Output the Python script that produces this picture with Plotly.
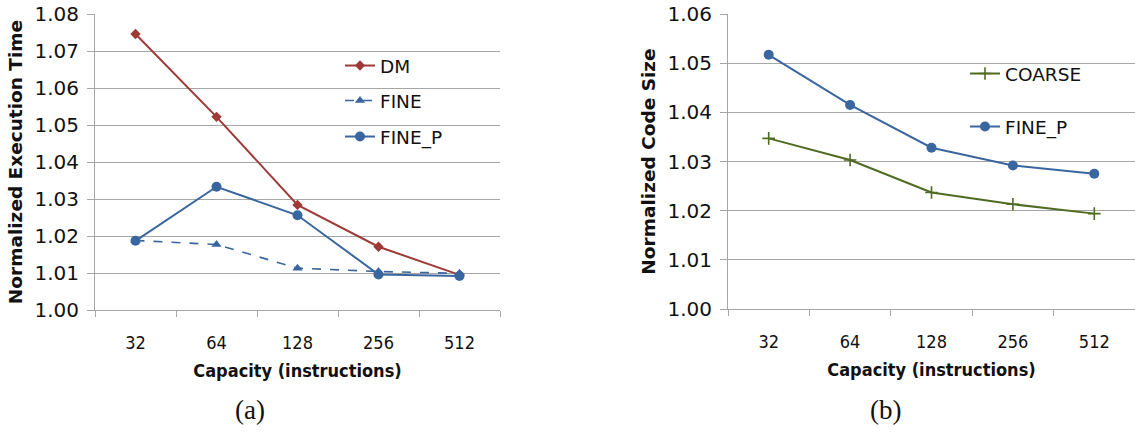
import plotly.graph_objects as go

W, H = 1135, 441

capacities = ["32", "64", "128", "256", "512"]

# (a) Normalized execution time
dm_time = [1.0746, 1.0522, 1.0284, 1.0171, 1.0095]
fine_time = [1.0188, 1.0177, 1.0113, 1.0104, 1.0099]
finep_time = [1.0187, 1.0333, 1.0256, 1.0096, 1.0092]

# (b) Normalized code size
coarse_size = [1.0347, 1.0303, 1.0237, 1.0213, 1.0194]
finep_size = [1.0517, 1.0415, 1.0328, 1.0292, 1.0275]

y_ticks_a = [1.00, 1.01, 1.02, 1.03, 1.04, 1.05, 1.06, 1.07, 1.08]
y_ticks_b = [1.00, 1.01, 1.02, 1.03, 1.04, 1.05, 1.06]

RED = "#9E3A36"
BLUE = "#3A66A0"
GREEN = "#4F6B22"
GRID = "#A6A6A6"
SANS = "DejaVu Sans, Verdana, sans-serif"
COND = "Liberation Sans Narrow, DejaVu Sans Condensed, sans-serif"

fig = go.Figure()

fig.add_trace(go.Scatter(x=capacities, y=dm_time, name="DM", mode="lines+markers",
                         line=dict(color=RED, width=2), marker=dict(symbol="diamond", size=8, color=RED),
                         xaxis="x", yaxis="y", legend="legend"))
fig.add_trace(go.Scatter(x=capacities, y=fine_time, name="FINE", mode="lines+markers",
                         line=dict(color=BLUE, width=1.6, dash="dash"),
                         marker=dict(symbol="triangle-up", size=9, color=BLUE),
                         xaxis="x", yaxis="y", legend="legend2"))
fig.add_trace(go.Scatter(x=capacities, y=finep_time, name="FINE_P", mode="lines+markers",
                         line=dict(color=BLUE, width=2), marker=dict(symbol="circle", size=10, color=BLUE),
                         xaxis="x", yaxis="y", legend="legend3"))

fig.add_trace(go.Scatter(x=capacities, y=coarse_size, name="COARSE", mode="lines+markers",
                         line=dict(color=GREEN, width=2),
                         marker=dict(symbol="cross-thin", size=9, color=GREEN, line=dict(color=GREEN, width=1.6)),
                         xaxis="x2", yaxis="y2", legend="legend4"))
fig.add_trace(go.Scatter(x=capacities, y=finep_size, name="FINE_P", mode="lines+markers",
                         line=dict(color=BLUE, width=2), marker=dict(symbol="circle", size=10, color=BLUE),
                         xaxis="x2", yaxis="y2", legend="legend5"))


def px_x(p):
    return p / W


def px_y(p):
    return 1 - p / H


xcommon = dict(type="category", range=[-0.5, len(capacities) - 0.5], tickson="boundaries", ticks="outside",
               ticklen=6, tickcolor=GRID,
               showline=True, linecolor=GRID, linewidth=1, showgrid=False, zeroline=False,
               tickfont=dict(family=COND, size=18, color="#111"), ticklabelstandoff=16,
               title=dict(text="<b>Capacity (instructions)</b>", font=dict(family=COND, size=18, color="#111"),
                          standoff=12),
               automargin=False, fixedrange=True)
ycommon = dict(ticks="outside", ticklen=7, tickcolor=GRID, showline=True,
               linecolor=GRID, linewidth=1, showgrid=True, gridcolor=GRID, gridwidth=1, zeroline=False,
               tickformat=".2f", tickfont=dict(family=SANS, size=20, color="#111"), ticklabelstandoff=4,
               automargin=False, fixedrange=True)

fig.update_layout(
    width=W, height=H,
    margin=dict(l=0, r=0, t=0, b=0, autoexpand=False),
    paper_bgcolor="white", plot_bgcolor="white",
    xaxis=dict(xcommon, domain=[px_x(95), px_x(500)], anchor="y"),
    yaxis=dict(ycommon, domain=[px_y(310), px_y(14)], anchor="x", range=[1.0, 1.08], tickvals=y_ticks_a,
               title=dict(text="<b>Normalized Execution Time</b>", font=dict(family=SANS, size=18.5, color="#111"),
                          standoff=6)),
    xaxis2=dict(xcommon, domain=[px_x(728), 1.0], anchor="y2"),
    yaxis2=dict(ycommon, domain=[px_y(309), px_y(14)], anchor="x2", range=[1.0, 1.06], tickvals=y_ticks_b,
                title=dict(text="<b>Normalized Code Size</b>", font=dict(family=SANS, size=18.5, color="#111"),
                           standoff=6)),
    showlegend=True,
)

leg_font = dict(family=SANS, size=18.5, color="#111")
legend_pos = {
    "legend": (340, 66), "legend2": (340, 101), "legend3": (340, 137),
    "legend4": (965, 74), "legend5": (965, 127),
}
for name, (lx, ly) in legend_pos.items():
    fig.update_layout({name: dict(x=px_x(lx), y=px_y(ly), xanchor="left", yanchor="middle",
                                  bgcolor="rgba(0,0,0,0)", borderwidth=0, font=leg_font,
                                  itemwidth=30, tracegroupgap=0)})

fig.add_annotation(text="(a)", x=px_x(250), y=px_y(410), xref="paper", yref="paper", showarrow=False,
                   font=dict(family="Liberation Serif, DejaVu Serif, serif", size=27, color="#111"),
                   xanchor="center", yanchor="middle")
fig.add_annotation(text="(b)", x=px_x(885), y=px_y(410), xref="paper", yref="paper", showarrow=False,
                   font=dict(family="Liberation Serif, DejaVu Serif, serif", size=27, color="#111"),
                   xanchor="center", yanchor="middle")

fig.write_html("out.html")
